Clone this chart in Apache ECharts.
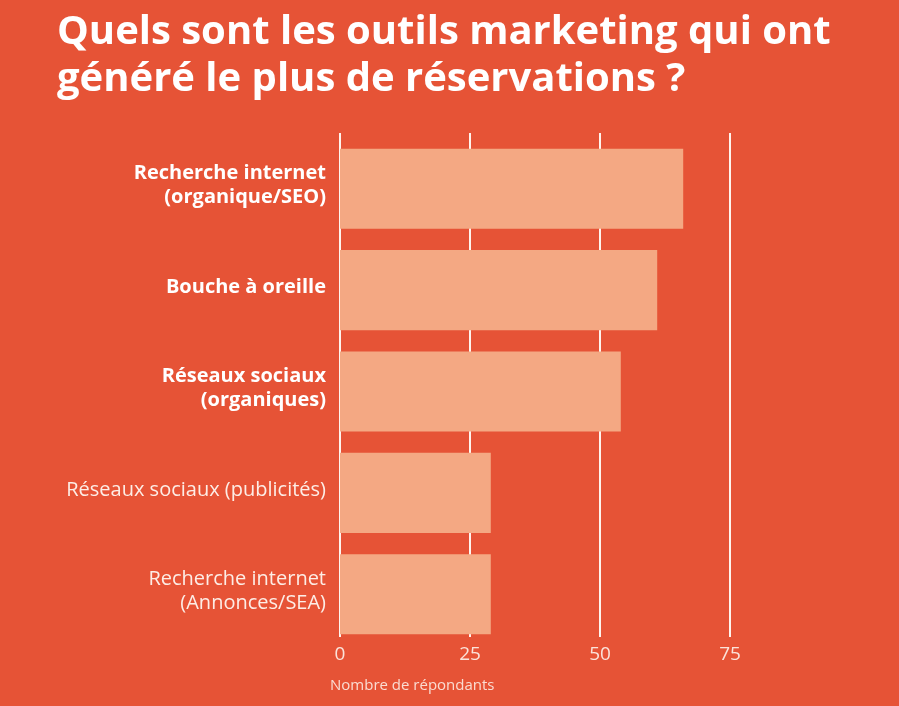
<!DOCTYPE html>
<html><head><meta charset="utf-8">
<script src="https://cdn.jsdelivr.net/npm/echarts@6/dist/echarts.min.js"></script>
<style>html,body{margin:0;padding:0;background:#E65336;}#c{width:899px;height:706px;}</style>
</head><body><div id="c"></div>
<script>
const titleText = "Quels sont les outils marketing qui ont\ngénéré le plus de réservations ?";
const categories = ["Recherche internet\n(organique/SEO)", "Bouche à oreille", "Réseaux sociaux\n(organiques)", "Réseaux sociaux (publicités)", "Recherche internet\n(Annonces/SEA)"];
const boldFlags = [true, true, true, false, false];
const values = [66, 61, 54, 29, 29];
const xTicks = [0, 25, 50, 75];
const xAxisName = "Nombre de répondants";

const FONT = "'Open Sans', sans-serif";
const chart = echarts.init(document.getElementById('c'));
chart.setOption({
  backgroundColor: '#E65336',
  animation: false,
  title: [
    { text: titleText, left: 52, top: 4,
      textStyle: { color: '#ffffff', fontFamily: FONT, fontWeight: 700, fontSize: 40, lineHeight: 47 } },
    { text: xAxisName, left: 325, top: 673,
      textStyle: { color: '#FADCD2', fontFamily: FONT, fontWeight: 400, fontSize: 15 } }
  ],
  grid: [
    { left: 340, right: 169, top: 133, bottom: 69 },
    { left: 340, right: 169, top: 138, bottom: 61 }
  ],
  xAxis: [
    { gridIndex: 0, type: 'value', min: xTicks[0], max: xTicks[xTicks.length-1], interval: 25,
      axisLine: { show: false }, axisTick: { show: false },
      splitLine: { show: true, lineStyle: { color: '#FFF3EE', width: 2 } },
      axisLabel: { color: '#FBE3DA', fontFamily: FONT, fontSize: 19, margin: 8 } },
    { gridIndex: 1, type: 'value', min: xTicks[0], max: xTicks[xTicks.length-1], show: false }
  ],
  yAxis: [
    { gridIndex: 0, type: 'category', data: categories, show: false },
    { gridIndex: 1, type: 'category', data: categories, inverse: true,
      axisLine: { show: false }, axisTick: { show: false },
      axisLabel: {
        margin: 14, align: 'right', padding: [0, 0, 6, 0],
        formatter: function (v, i) {
          const k = boldFlags[i] ? 'b' : 'n';
          return v.split('\n').map(s => '{' + k + '|' + s + '}').join('\n');
        },
        rich: {
          b: { color: '#ffffff', fontFamily: FONT, fontWeight: 700, fontSize: 20, lineHeight: 24 },
          n: { color: '#FDEDE6', fontFamily: FONT, fontWeight: 400, fontSize: 20, lineHeight: 24 }
        }
      } }
  ],
  series: [{
    type: 'bar', xAxisIndex: 1, yAxisIndex: 1, data: values,
    barCategoryGap: '21%',
    itemStyle: { color: '#F4A883' },
    z: 3
  }]
});
</script></body></html>
